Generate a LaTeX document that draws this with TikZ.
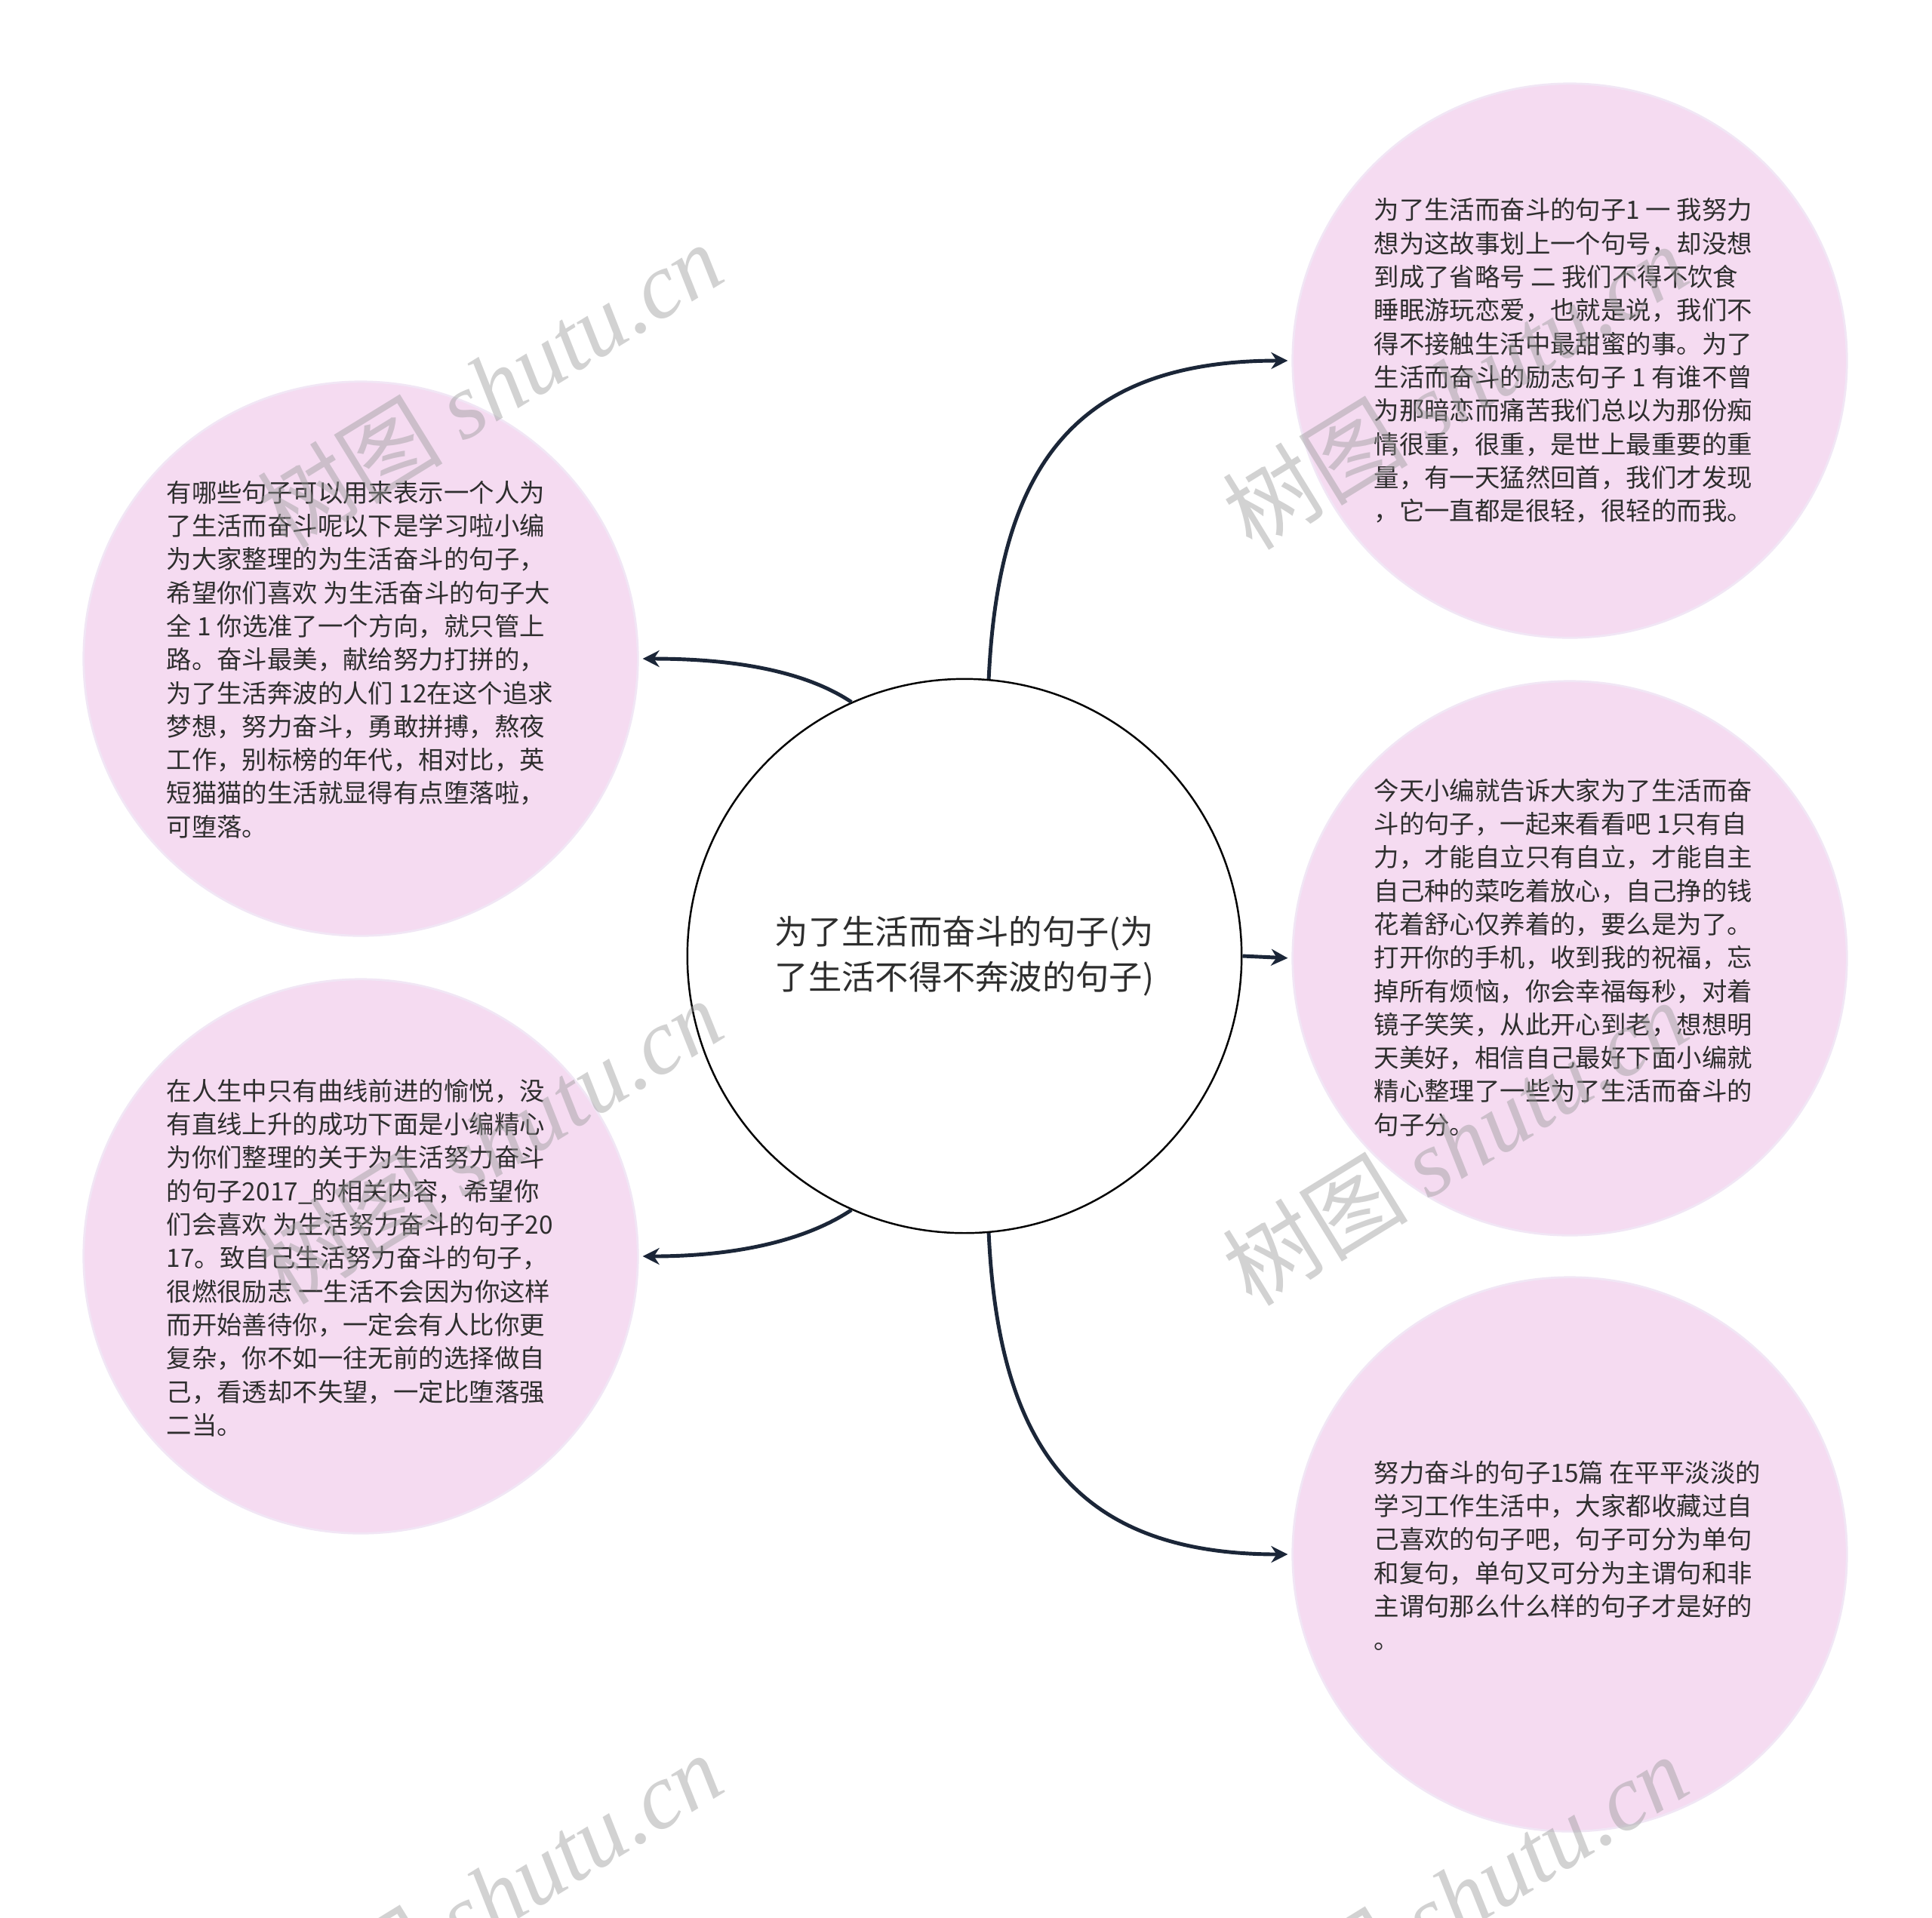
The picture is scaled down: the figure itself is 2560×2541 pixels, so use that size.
\documentclass[tikz,border=0pt]{standalone}
\usepackage{fontspec}
\setmainfont{Noto Sans CJK SC}
\newfontfamily\wmlatin{Liberation Serif}
\usetikzlibrary{arrows.meta}
\definecolor{pinkfill}{HTML}{F5DBF1}
\definecolor{pinkedge}{HTML}{F1E6F5}
\definecolor{conncol}{HTML}{1B2638}
\definecolor{txtcol}{HTML}{2E2E2E}
\definecolor{wmcol}{HTML}{9C9C9C}
\begin{document}
\begin{tikzpicture}[x=0.01cm,y=-0.01cm,
  leaf/.style={circle, fill=pinkfill, draw=pinkedge, line width=0.8pt, minimum size=7.34cm, inner sep=0pt},
  hub/.style={circle, fill=white, draw=black, line width=0.7pt, minimum size=7.34cm, inner sep=0pt,
    align=center, text=txtcol, font=\fontsize{12.6}{17}\selectfont},
  leaftext/.style={anchor=west, align=left, inner sep=0pt, text=txtcol, font=\fontsize{9.5}{12.6}\selectfont},
  connector/.style={draw=conncol, line width=1.4pt, -{Stealth[length=0.22cm,width=0.22cm]}, shorten >=0.05cm},
  wmark/.style={text=wmcol, opacity=0.45, font=\fontsize{35}{40}\selectfont, inner sep=0pt}]
\useasboundingbox (0,0) rectangle (2560,2541);
\fill[white] (0,0) rectangle (2560,2541);

\node[hub] (c) at (1278,1267) {为了生活而奋斗的句子(为\\了生活不得不奔波的句子)};

\node[leaf] (r1) at (2080,478) {};
\node[leaf] (r2) at (2080,1270) {};
\node[leaf] (r3) at (2080,2060) {};
\node[leaf] (l1) at (478,873) {};
\node[leaf] (l2) at (478,1665) {};

\node[leaftext] (r1t) at (1820,478) {为了生活而奋斗的句子1 一 我努力\\
想为这故事划上一个句号，却没想\\
到成了省略号 二 我们不得不饮食\\
睡眠游玩恋爱，也就是说，我们不\\
得不接触生活中最甜蜜的事。为了\\
生活而奋斗的励志句子 1 有谁不曾\\
为那暗恋而痛苦我们总以为那份痴\\
情很重，很重，是世上最重要的重\\
量，有一天猛然回首，我们才发现\\
，它一直都是很轻，很轻的而我。};

\node[leaftext] (r2t) at (1820,1269) {今天小编就告诉大家为了生活而奋\\
斗的句子，一起来看看吧 1只有自\\
力，才能自立只有自立，才能自主\\
自己种的菜吃着放心，自己挣的钱\\
花着舒心仅养着的，要么是为了。\\
打开你的手机，收到我的祝福，忘\\
掉所有烦恼，你会幸福每秒，对着\\
镜子笑笑，从此开心到老，想想明\\
天美好，相信自己最好下面小编就\\
精心整理了一些为了生活而奋斗的\\
句子分。};

\node[leaftext] (r3t) at (1820,2062) {努力奋斗的句子15篇 在平平淡淡的\\
学习工作生活中，大家都收藏过自\\
己喜欢的句子吧，句子可分为单句\\
和复句，单句又可分为主谓句和非\\
主谓句那么什么样的句子才是好的\\
。};

\node[leaftext] (l1t) at (220,874) {有哪些句子可以用来表示一个人为\\
了生活而奋斗呢以下是学习啦小编\\
为大家整理的为生活奋斗的句子，\\
希望你们喜欢 为生活奋斗的句子大\\
全 1 你选准了一个方向，就只管上\\
路。奋斗最美，献给努力打拼的，\\
为了生活奔波的人们 12在这个追求\\
梦想，努力奋斗，勇敢拼搏，熬夜\\
工作，别标榜的年代，相对比，英\\
短猫猫的生活就显得有点堕落啦，\\
可堕落。};

\node[leaftext] (l2t) at (220,1667) {在人生中只有曲线前进的愉悦，没\\
有直线上升的成功下面是小编精心\\
为你们整理的关于为生活努力奋斗\\
的句子2017\_的相关内容，希望你\\
们会喜欢 为生活努力奋斗的句子20\\
17。致自己生活努力奋斗的句子，\\
很燃很励志 一生活不会因为你这样\\
而开始善待你，一定会有人比你更\\
复杂，你不如一往无前的选择做自\\
己，看透却不失望，一定比堕落强\\
二当。};

\draw[connector] (c.85) .. controls +(13,-283) and +(-286,0) .. (r1.west);
\draw[connector] (c.east) -- (r2.west);
\draw[connector] (c.-85) .. controls +(13,283) and +(-286,0) .. (r3.west);
\draw[connector] (c.114) .. controls +(-60,-40) and +(130,0) .. (l1.east);
\draw[connector] (c.-114) .. controls +(-60,40) and +(130,0) .. (l2.east);

\foreach \wx/\wy [count=\i] in {649/510, 1928/512, 649/1512, 1928/1514, 649/2512, 1928/2514}
  \node[wmark, rotate=31.6] (wm\i) at (\wx,\wy) {树图 {\wmlatin\itshape shutu.cn}};
\end{tikzpicture}
\end{document}
